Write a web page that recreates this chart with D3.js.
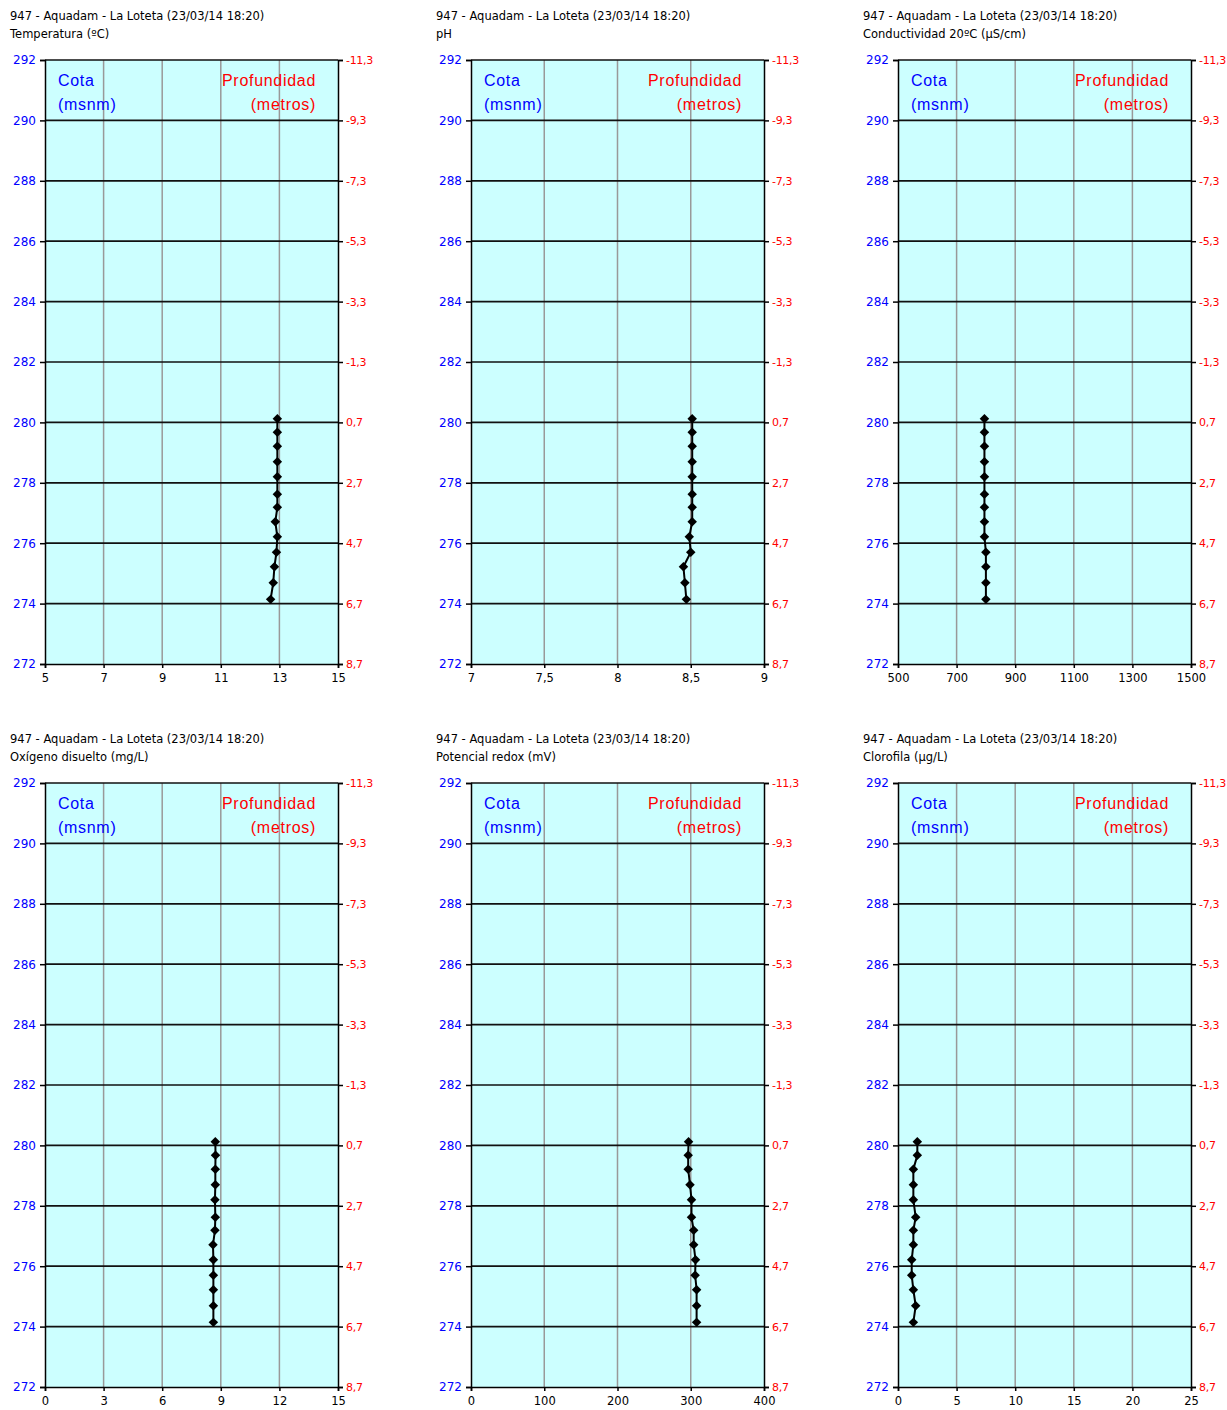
<!DOCTYPE html>
<html>
<head>
<meta charset="utf-8">
<script src="https://cdn.jsdelivr.net/npm/d3@7"></script>
<style>
  body { margin: 0; background: #fff; }
  svg text { font-family: "DejaVu Sans", sans-serif; }
  svg text.big { font-family: "Liberation Sans", Arial, sans-serif; font-size: 16px; letter-spacing: 0.7px; }
</style>
</head>
<body>
<div id="chart"></div>
<script>
// profile depths (m) shared by every panel
const depths = [0.58, 1.03, 1.49, 2.0, 2.5, 3.08, 3.51, 3.99, 4.49, 5.0, 5.48, 6.01, 6.56];

const temperatura = [12.93, 12.93, 12.93, 12.93, 12.93, 12.93, 12.93, 12.86, 12.93, 12.9, 12.83, 12.79, 12.7];
const ph = [8.51, 8.51, 8.51, 8.51, 8.51, 8.51, 8.51, 8.51, 8.49, 8.5, 8.45, 8.46, 8.47];
const conductividad = [795, 795, 795, 795, 795, 795, 795, 795, 795, 800, 800, 800, 800];
const oxigeno = [8.72, 8.73, 8.72, 8.72, 8.70, 8.72, 8.70, 8.60, 8.62, 8.62, 8.62, 8.62, 8.62];
const redox = [297, 296.5, 296.5, 299, 301, 301, 304, 304, 306.5, 306, 308, 308, 308];
const clorofila = [1.65, 1.65, 1.31, 1.31, 1.31, 1.51, 1.31, 1.31, 1.17, 1.17, 1.31, 1.51, 1.31];

const titulo = "947 - Aquadam - La Loteta (23/03/14 18:20)";
const variables = ["Temperatura (ºC)", "pH", "Conductividad 20ºC (µS/cm)", "Oxígeno disuelto (mg/L)", "Potencial redox (mV)", "Clorofila (µg/L)"];
const xTicks = [
  [5, 7, 9, 11, 13, 15],
  [7, 7.5, 8, 8.5, 9],
  [500, 700, 900, 1100, 1300, 1500],
  [0, 3, 6, 9, 12, 15],
  [0, 100, 200, 300, 400],
  [0, 5, 10, 15, 20, 25]
];
const cotaTicks = [272, 274, 276, 278, 280, 282, 284, 286, 288, 290, 292];
const cotaSuperficie = 280.7; // depth = cotaSuperficie - cota

const series = [temperatura, ph, conductividad, oxigeno, redox, clorofila];

const W = 1227, H = 1410;
const svg = d3.select("#chart").append("svg").attr("width", W).attr("height", H);

const plotW = 293, plotH = 604;
const fmt = v => String(v).replace(".", ",");

series.forEach((vals, i) => {
  const col = i % 3, row = Math.floor(i / 3);
  const ox = [0, 426, 853][col], oy = row * 723;
  const g = svg.append("g").attr("transform", `translate(${ox + 45},${oy + 60})`);

  svg.append("text").attr("x", ox + 10).attr("y", oy + 20)
    .attr("font-size", 11.5).attr("fill", "#000").text(titulo);
  svg.append("text").attr("x", ox + 10).attr("y", oy + 38)
    .attr("font-size", 11.5).attr("fill", "#000").text(variables[i]);

  const ticks = xTicks[i];
  const x = d3.scaleLinear().domain([ticks[0], ticks[ticks.length - 1]]).range([0, plotW]);
  const y = d3.scaleLinear().domain([272, 292]).range([plotH, 0]);

  g.append("rect").attr("width", plotW).attr("height", plotH).attr("fill", "#ccffff");

  // vertical grid
  g.selectAll(".vg").data(ticks.slice(1, -1)).join("line")
    .attr("x1", d => x(d)).attr("x2", d => x(d))
    .attr("y1", 0).attr("y2", plotH)
    .attr("stroke", "#999").attr("stroke-width", 1.5);
  // horizontal grid
  g.selectAll(".hg").data(cotaTicks.slice(1)).join("line")
    .attr("x1", 0).attr("x2", plotW)
    .attr("y1", d => y(d)).attr("y2", d => y(d))
    .attr("stroke", "#111").attr("stroke-width", 1.7);

  // left axis (cota)
  const left = g.append("g").call(d3.axisLeft(y).tickValues(cotaTicks).tickSize(5).tickFormat(d3.format("d")));
  left.selectAll("text").attr("fill", "#0000ff").attr("font-size", 12).attr("x", -9);
  // right axis (profundidad)
  const right = g.append("g").attr("transform", `translate(${plotW},0)`)
    .call(d3.axisRight(y).tickValues(cotaTicks).tickSize(5)
      .tickFormat(d => fmt(+(cotaSuperficie - d).toFixed(1))));
  right.selectAll("text").attr("fill", "#ff0000").attr("font-size", 11)
    .attr("letter-spacing", -0.3).attr("x", 8);
  // bottom axis
  const bottom = g.append("g").attr("transform", `translate(0,${plotH})`)
    .call(d3.axisBottom(x).tickValues(ticks).tickSize(4).tickFormat(fmt));
  bottom.selectAll("text").attr("fill", "#000").attr("font-size", 11.5).attr("y", 10);

  g.selectAll(".domain").attr("stroke", "#000").attr("stroke-width", 1.5);
  g.selectAll(".tick line").attr("stroke", "#000").attr("stroke-width", 1.5);

  // corner labels
  g.append("text").attr("class", "big").attr("x", 13).attr("y", 26).attr("fill", "#0000ff").text("Cota");
  g.append("text").attr("class", "big").attr("x", 13).attr("y", 50).attr("fill", "#0000ff").text("(msnm)");
  g.append("text").attr("class", "big").attr("x", 271).attr("y", 26).attr("fill", "#ff0000")
    .attr("text-anchor", "end").text("Profundidad");
  g.append("text").attr("class", "big").attr("x", 271).attr("y", 50).attr("fill", "#ff0000")
    .attr("text-anchor", "end").text("(metros)");

  const pts = vals.map((v, k) => ({ v, cota: cotaSuperficie - depths[k] }));
  g.append("path").datum(pts)
    .attr("fill", "none").attr("stroke", "#000").attr("stroke-width", 2)
    .attr("d", d3.line().x(d => x(d.v)).y(d => y(d.cota)));
  g.selectAll(".pt").data(pts).join("path")
    .attr("d", d3.symbol(d3.symbolSquare, 45))
    .attr("transform", d => `translate(${x(d.v)},${y(d.cota)}) rotate(45)`)
    .attr("fill", "#000");
});
</script>
</body>
</html>
